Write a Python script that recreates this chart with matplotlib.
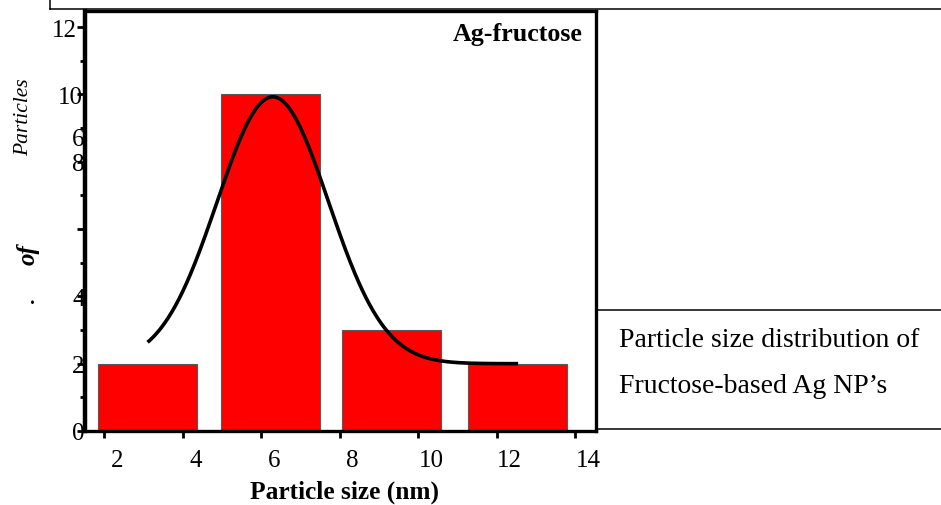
import matplotlib
matplotlib.use("Agg")
import matplotlib.pyplot as plt
import numpy as np
from matplotlib.lines import Line2D
from matplotlib.transforms import ScaledTranslation

plt.rcParams['font.family'] = ['Liberation Serif', 'DejaVu Serif']

# ---- data -------------------------------------------------------------
bin_centers = [2.78, 5.90, 9.00, 12.20]     # particle size bins (nm)
counts = [2, 10, 3, 2]                       # number of particles per bin
bin_width = 2.52

# Gaussian fit of the size distribution
fit_center = 5.97
fit_sigma = 1.42
fit_amplitude = 7.93
fit_baseline = 2.0
fit_start = 2.78
fit_end = 12.22

x_ticks = [2, 4, 6, 8, 10, 12, 14]
x_tick_labels = ['2', '4', '6', '8', '10', '12', '14']
y_ticks = [0, 2, 4, 6, 8, 10, 12]
y_tick_labels = ['0', '2', '4', '6', '8', '10', '12']
y_minor_ticks = [1, 3, 5, 7, 9, 11]

# ---- figure -----------------------------------------------------------
W, H = 941, 506
fig = plt.figure(figsize=(W / 100, H / 100), dpi=100)


def fx(px):
    return px / W


def fy(py):
    return 1 - py / H


ax_left, ax_right, ax_top, ax_bottom = 85, 596, 12, 432
ax = fig.add_axes([fx(ax_left), fy(ax_bottom),
                   fx(ax_right) - fx(ax_left), fy(ax_top) - fy(ax_bottom)])

ax.bar(bin_centers, counts, width=bin_width, color='#ff0000',
       edgecolor='#5a5a5a', linewidth=0.8, zorder=2)

xs = np.linspace(fit_start, fit_end, 400)
ys = fit_baseline + fit_amplitude * np.exp(-(xs - fit_center) ** 2 / (2 * fit_sigma ** 2))
ax.plot(xs, ys, color='black', lw=2.6, zorder=3, solid_capstyle='butt')

ax.set_xlim(1.185, 14.204)
ax.set_ylim(0, 12.48)

# x axis: labels on the major ticks, marks drawn as minor ticks
ax.set_xticks(x_ticks)
ax.set_xticklabels(x_tick_labels)
ax.set_xticks(np.array(x_ticks) - 0.33, minor=True)
ax.tick_params(axis='x', which='major', length=0, pad=13, labelsize=18)
ax.tick_params(axis='x', which='minor', length=5, width=2, direction='out',
               color='black')

# y axis
ax.set_yticks(y_ticks)
ax.set_yticklabels(y_tick_labels)
ax.set_yticks(y_minor_ticks, minor=True)
ax.tick_params(axis='y', which='major', length=5.5, width=2, direction='out',
               pad=-5.2, labelsize=18)
ax.tick_params(axis='y', which='minor', length=3.5, width=2, direction='out')

label_shift_px = {'12': (-8, 0), '10': (-2, 0), '6': (0, 93)}
for tick, txt in zip(ax.yaxis.get_major_ticks(), y_tick_labels):
    if txt in label_shift_px:
        dx, dy = label_shift_px[txt]
        lab = tick.label1
        lab.set_transform(lab.get_transform() +
                          ScaledTranslation(dx / 100, dy / 100, fig.dpi_scale_trans))

ax.spines['left'].set_linewidth(3.2)
ax.spines['right'].set_linewidth(2.4)
ax.spines['top'].set_linewidth(2.4)
ax.spines['bottom'].set_linewidth(2.4)

ax.text((583 - ax_left) / (ax_right - ax_left), (ax_bottom - 35) / (ax_bottom - ax_top),
        'Ag-fructose', transform=ax.transAxes, ha='right', va='center',
        fontsize=18.7, fontweight='bold')

ax.set_xlabel('Particle size (nm)', fontsize=18.3, fontweight='bold')
ax.xaxis.set_label_coords((344 - ax_left) / (ax_right - ax_left),
                          -(492 - ax_bottom) / (ax_bottom - ax_top))
ax.xaxis.label.set_va('center')

# broken vertical axis title
fig.text(fx(24), fy(117), 'Particles', rotation=90, ha='center', va='center',
         fontsize=15.5, style='italic')
fig.text(fx(28), fy(255), 'of', rotation=90, ha='center', va='center',
         fontsize=18, style='italic', fontweight='bold')
fig.text(fx(29), fy(300), '.', rotation=90, ha='center', va='center',
         fontsize=16, fontweight='bold')

# surrounding table rules
rules = [
    ([50, 941], [9.5, 9.5]),
    ([50, 50], [0, 9.5]),
    ([596, 941], [310.5, 310.5]),
    ([596, 941], [430, 430]),
]
for xp, yp in rules:
    fig.add_artist(Line2D([fx(v) for v in xp], [fy(v) for v in yp],
                          color='black', lw=1.1))

fig.text(fx(619), fy(347), 'Particle size distribution of', ha='left',
         va='baseline', fontsize=20)
fig.text(fx(619), fy(393), 'Fructose-based Ag NP\u2019s', ha='left',
         va='baseline', fontsize=20)

fig.savefig('out.png', dpi=100)
